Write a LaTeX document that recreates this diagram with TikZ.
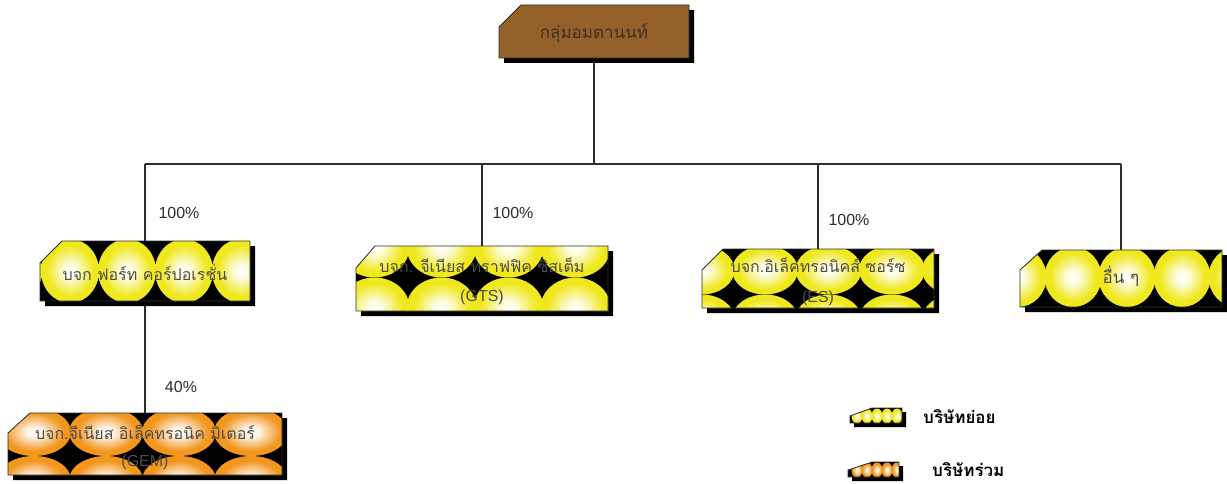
\documentclass[tikz,border=0pt]{standalone}
\usepackage{fontspec}
\setmainfont{Liberation Sans}
\newfontfamily\thaifont[Script=Thai]{Loma}
\definecolor{ballY}{HTML}{F0E81E}
\definecolor{ballO}{HTML}{F2961E}
\definecolor{brownF}{HTML}{936129}
\definecolor{lineC}{HTML}{2E2E2E}
\definecolor{txtC}{HTML}{4C4C4C}
\definecolor{topTxt}{HTML}{3F3222}
\pgfdeclareradialshading{yball}{\pgfpoint{0bp}{0bp}}{color(0bp)=(white); color(6bp)=(white!85!ballY); color(20bp)=(ballY); color(50bp)=(ballY)}
\pgfdeclareradialshading{oball}{\pgfpoint{0bp}{0bp}}{color(0bp)=(white); color(6bp)=(white!85!ballO); color(20bp)=(ballO); color(50bp)=(ballO)}
\tikzset{
  frame/.style={inner sep=0pt, outer sep=0pt},
  edge/.style={draw=lineC, line width=0.8pt},
  conn/.style={draw=lineC, line width=1.5pt},
  pct/.style={font=\fontsize{16}{19}\selectfont, text=lineC, inner sep=0pt},
  thtxt/.style={font=\thaifont\fontsize{16}{19}\selectfont, text=txtC, inner sep=0pt},
  latxt/.style={font=\fontsize{16}{19}\selectfont, text=txtC, inner sep=0pt},
  legtxt/.style={font=\thaifont\bfseries\fontsize{17}{20}\selectfont, text=black, inner sep=0pt},
}
% #1 name, #2 x1, #3 y1, #4 x2, #5 y2
\newcommand{\mkframe}[5]{%
  \node[frame, minimum width={(#4-#2)*1pt}, minimum height={(#5-#3)*1pt}] (#1) at ({(#2+#4)/2},{(#3+#5)/2}) {};}
% #1 x1 #2 y1 #3 x2 #4 y2 #5 chamfer dx #6 chamfer dy #7 shading #8 shadow offset
\newcommand{\patbox}[8]{%
  \fill[black] (#1+#8,#2+#6+#8) -- (#1+#5+#8,#2+#8) -- (#3+#8,#2+#8) -- (#3+#8,#4+#8) -- (#1+#8,#4+#8) -- cycle;
  \begin{scope}
    \clip (#1,#2+#6) -- (#1+#5,#2) -- (#3,#2) -- (#3,#4) -- (#1,#4) -- cycle;
    \fill[black] (#1,#2) rectangle (#3,#4);
    \foreach \cx in \pX {\foreach \cy in \pY {\shade[shading=#7] (\cx,\cy) ellipse [x radius=\pRx pt, y radius=\pRy pt];}}
  \end{scope}
  \draw[edge] (#1,#2+#6) -- (#1+#5,#2) -- (#3,#2) -- (#3,#4) -- (#1,#4) -- cycle;
}
\begin{document}
\begin{tikzpicture}[x=1pt,y=-1pt]
\useasboundingbox (0,0) rectangle (1227,484);
\fill[white] (0,0) rectangle (1227,484);
% frames (named nodes)
\mkframe{top}{499}{5}{689}{58}
\mkframe{forth}{40}{241}{250}{301}
\mkframe{gts}{356}{246}{608}{311}
\mkframe{es}{702}{249}{934}{308}
\mkframe{other}{1020}{250}{1222}{307}
\mkframe{gem}{8}{413}{282}{475}
\mkframe{legY}{850}{408}{902}{423}
\mkframe{legO}{848}{462}{899}{477}
% connectors
\coordinate (bus0) at (top.south |- 0,164);
\coordinate (jF) at (forth.north |- bus0);
\coordinate (jG) at (gts.north |- bus0);
\coordinate (jE) at (es.north |- bus0);
\coordinate (jO) at (other.north |- bus0);
\draw[conn] (top.south) -- (bus0);
\draw[conn] (jF) -- (jO);
\draw[conn] (jF) -- (forth.north);
\draw[conn] (jG) -- (gts.north);
\draw[conn] (jE) -- (es.north);
\draw[conn] (jO) -- (other.north);
\draw[conn] (forth.south) -- (gem.north);
% top box
\fill[black] (504,32) -- (526,10) -- (694,10) -- (694,63) -- (504,63) -- cycle;
\filldraw[fill=brownF, edge] (499,27) -- (521,5) -- (689,5) -- (689,58) -- (499,58) -- cycle;
% patterned boxes
\def\pX{13,70,127,184,241}\def\pY{271}\def\pRx{29}\def\pRy{32}
\patbox{40}{241}{250}{301}{22}{22}{yball}{5}
\def\pX{307.5,374.5,441.5,508.5,575.5,642.5}\def\pY{247,308}\def\pRx{35}\def\pRy{30.5}
\patbox{356}{246}{608}{311}{19}{22}{yball}{5}
\def\pX{701.5,765,828.5,892,955}\def\pY{270,319}\def\pRx{33}\def\pRy{24.5}
\patbox{702}{249}{934}{308}{21}{21}{yball}{5}
\def\pX{1018,1073,1127,1182,1237}\def\pY{277}\def\pRx{28.5}\def\pRy{30}
\patbox{1020}{250}{1222}{307}{22}{20}{yball}{5}
\def\pX{-38,34,106,179,251,323}\def\pY{432,480}\def\pRx{37}\def\pRy{24}
\patbox{8}{413}{282}{475}{22}{20}{oball}{5}
\def\pX{857,867,877,887,897}\def\pY{416}\def\pRx{5.5}\def\pRy{7.5}
\patbox{850}{408}{902}{423}{22}{8}{yball}{4}
\def\pX{857,867,877,887,897}\def\pY{470}\def\pRx{5.5}\def\pRy{7.5}
\patbox{848}{462}{899}{477}{24}{8}{oball}{4}
% texts
\node[thtxt, text=topTxt, font=\thaifont\fontsize{17}{20}\selectfont] (top-t) at (594,33) {กลุ่มอมตานนท์};
\node[thtxt] (forth-t) at (145,272) {บจก ฟอร์ท คอร์ปอเรชั่น};
\node[thtxt] (gts-t1) at (482,265) {บจก. จีเนียส ทราฟฟิค ซิสเต็ม};
\node[latxt] (gts-t2) at (482,297) {(GTS)};
\node[thtxt] (es-t1) at (818,265) {บจก.อิเล็คทรอนิคส์ ซอร์ซ};
\node[latxt] (es-t2) at (818,298) {(ES)};
\node[thtxt, font=\thaifont\fontsize{17}{20}\selectfont] (other-t) at (1121,276) {อื่น ๆ};
\node[thtxt] (gem-t1) at (145,432) {บจก.จีเนียส อิเล็คทรอนิค มิเตอร์};
\node[latxt] (gem-t2) at (145,462) {(GEM)};
\node[pct] (p1) at (179,213) {100\%};
\node[pct] (p2) at (513,213) {100\%};
\node[pct] (p3) at (849,220) {100\%};
\node[pct] (p4) at (181,387) {40\%};
\node[legtxt, anchor=west] (legY-t) at (923,417) {บริษัทย่อย};
\node[legtxt, anchor=west] (legO-t) at (932,470) {บริษัทร่วม};
\end{tikzpicture}
\end{document}
